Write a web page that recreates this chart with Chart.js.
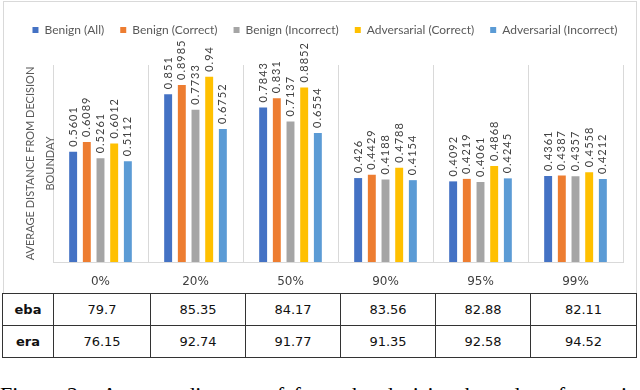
<!DOCTYPE html>
<html>
<head>
<meta charset="utf-8">
<script src="https://cdn.jsdelivr.net/npm/chart.js@4"></script>
<style>
  html, body { margin: 0; padding: 0; background: #fff; }
  body { width: 640px; height: 390px; overflow: hidden; position: relative; }
  #frame { position: absolute; left: 3px; top: 1px; width: 634px; height: 293px; border: 1px solid #d9d9d9; box-sizing: border-box; }
  #chart-wrap { position: absolute; left: 0; top: 0; width: 640px; height: 293px; }
  #scores { position: absolute; left: 2px; top: 293px; border-collapse: collapse; table-layout: fixed;
            font-family: 'DejaVu Sans', sans-serif; font-size: 13px; color: #111; }
  #scores td { border: 1px solid #333; height: 31px; padding: 0; text-align: center; }
  #scores td.name { font-weight: bold; }
  #caption { position: absolute; left: 0; top: 382px; white-space: nowrap; font-family: 'Liberation Serif', serif;
             font-size: 22px; line-height: 26px; color: #000; word-spacing: 4px; }
</style>
</head>
<body>
<div id="frame"></div>
<div id="chart-wrap"><canvas id="distance-chart" width="640" height="293"></canvas></div>
<table id="scores"></table>
<div id="caption">Figure 2:&nbsp; Average distance of from the decision boundary for various</div>
<script>
const categories = ['0%', '20%', '50%', '90%', '95%', '99%'];
const seriesNames = ['Benign (All)', 'Benign (Correct)', 'Benign (Incorrect)', 'Adversarial (Correct)', 'Adversarial (Incorrect)'];
const benignAll = [0.5601, 0.851, 0.7843, 0.426, 0.4092, 0.4361];
const benignCorrect = [0.6089, 0.8985, 0.831, 0.4429, 0.4219, 0.4387];
const benignIncorrect = [0.5261, 0.7733, 0.7137, 0.4188, 0.4061, 0.4357];
const advCorrect = [0.6012, 0.94, 0.8852, 0.4788, 0.4868, 0.4558];
const advIncorrect = [0.5112, 0.6752, 0.6554, 0.4154, 0.4245, 0.4212];
const ebaValues = ['79.7', '85.35', '84.17', '83.56', '82.88', '82.11'];
const eraValues = ['76.15', '92.74', '91.77', '91.35', '92.58', '94.52'];

const colors = ['#4472C4', '#ED7D31', '#A5A5A5', '#FFC000', '#5B9BD5'];
const allSeries = [benignAll, benignCorrect, benignIncorrect, advCorrect, advIncorrect];

// value labels, rotated, just above each bar
const barValueLabels = {
  id: 'barValueLabels',
  afterDatasetsDraw(chart) {
    const ctx = chart.ctx;
    ctx.save();
    ctx.letterSpacing = '1px';
    ctx.font = '11px Lato';
    ctx.fillStyle = '#404040';
    ctx.textAlign = 'left';
    ctx.textBaseline = 'middle';
    chart.data.datasets.forEach((ds, i) => {
      chart.getDatasetMeta(i).data.forEach((bar, j) => {
        ctx.save();
        ctx.translate(bar.x, bar.y - 5);
        ctx.rotate(-Math.PI / 2);
        ctx.fillText(String(ds.data[j]), 0, 0);
        ctx.restore();
      });
    });
    ctx.restore();
    // axis text drawn after this gets a bit of spacing
    ctx.letterSpacing = '0.6px';
  },
  afterDraw(chart) {
    chart.ctx.letterSpacing = '0px';
  }
};

new Chart(document.getElementById('distance-chart'), {
  type: 'bar',
  data: {
    labels: categories,
    datasets: allSeries.map((vals, i) => ({
      label: seriesNames[i],
      data: vals,
      backgroundColor: colors[i],
      borderWidth: 0,
      xAxisID: 'x',
      yAxisID: 'y',
      categoryPercentage: 0.72,
      barPercentage: 0.58
    }))
  },
  options: {
    responsive: false,
    animation: false,
    layout: { padding: { left: 10, right: 0, top: 8, bottom: 0 } },
    plugins: {
      legend: {
        position: 'top',
        labels: {
          boxWidth: 6,
          boxHeight: 6,
          padding: 16,
          color: '#595959',
          font: { family: 'Lato', size: 12 }
        }
      },
      tooltip: { enabled: false }
    },
    scales: {
      x: {
        position: 'bottom',
        z: 1,
        grid: { color: '#d9d9d9', drawTicks: false, offset: true },
        border: { color: '#d9d9d9' },
        ticks: { color: '#404040', padding: 13, font: { family: 'DejaVu Sans', size: 12 } },
        afterFit(s) { s.height = 31; }
      },
      xTop: {
        type: 'linear',
        position: 'top',
        display: true,
        ticks: { display: false },
        grid: { display: false },
        border: { display: false },
        afterFit(s) { s.height = 19; }
      },
      y: {
        position: 'left',
        z: 1,
        min: 0,
        max: 1,
        ticks: { display: false },
        grid: { display: false },
        border: { display: false },
        title: {
          display: true,
          text: ['AVERAGE DISTANCE FROM DECISION', 'BOUNDAY'],
          color: '#595959',
          font: { family: 'Lato', size: 11, lineHeight: '20px' },
          padding: { top: 10, bottom: 0 }
        },
        afterFit(s) { s.width = 43; }
      },
      yRight: {
        type: 'linear',
        position: 'right',
        display: true,
        ticks: { display: false },
        grid: { display: false },
        border: { display: false },
        afterFit(s) { s.width = 17; }
      }
    }
  },
  plugins: [barValueLabels]
});

// table under the chart
const colWidths = [51, 97, 95, 95, 95, 95, 106];
const table = document.getElementById('scores');
const colgroup = document.createElement('colgroup');
colWidths.forEach(w => {
  const col = document.createElement('col');
  col.style.width = w + 'px';
  colgroup.appendChild(col);
});
table.appendChild(colgroup);
[['eba', ebaValues], ['era', eraValues]].forEach(([name, vals]) => {
  const tr = document.createElement('tr');
  const th = document.createElement('td');
  th.className = 'name';
  th.textContent = name;
  tr.appendChild(th);
  vals.forEach(v => {
    const td = document.createElement('td');
    td.textContent = v;
    tr.appendChild(td);
  });
  table.appendChild(tr);
});
</script>
</body>
</html>
